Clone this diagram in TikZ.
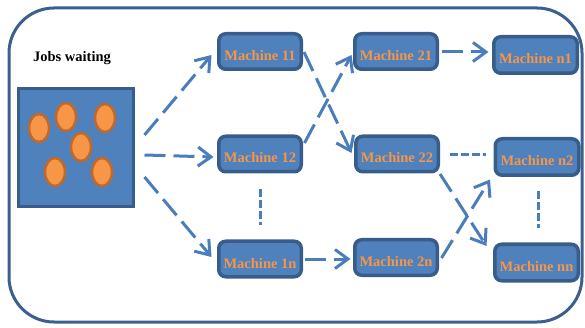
\documentclass[tikz,border=0pt]{standalone}
\usepackage{fontspec}
\setmainfont{Liberation Serif}
\usetikzlibrary{arrows.meta,calc}
\definecolor{boxfill}{HTML}{4F81BD}
\definecolor{boxline}{HTML}{385D8A}
\definecolor{orangetxt}{HTML}{F79646}
\definecolor{orangeline}{HTML}{C0692A}
\definecolor{arrowcol}{HTML}{4A7EBB}
\definecolor{outerline}{HTML}{3B5F8E}
\begin{document}
\begin{tikzpicture}[x=1pt,y=-1pt,
 machine/.style={draw=boxline, fill=boxfill, line width=3.5pt, rounded corners=7pt,
   minimum width=82.5pt, minimum height=35.5pt, inner sep=0pt, text height=18pt, text depth=0pt,
   font=\fontsize{14.5}{16}\selectfont\bfseries, text=orangetxt},
 flow/.style={draw=arrowcol, line width=3pt, dash pattern=on 21pt off 8pt,
   -{Straight Barb[length=13pt,width=19pt,line width=3pt]}},
 dotsline/.style={draw=arrowcol, line width=3pt, dash pattern=on 8pt off 3pt},
 job/.style={fill=orangetxt, draw=orangeline, line width=2.5pt}]
\useasboundingbox (0,0) rectangle (585,328);
\draw[outerline, line width=3pt, rounded corners=45pt] (9,8) rectangle (582,322);
\node[font=\fontsize{14.5}{16}\selectfont\bfseries] (title) at (72,58) {Jobs waiting};
\node[draw=boxline, fill=boxfill, line width=3pt, minimum width=115pt, minimum height=118pt] (jobs) at (76,147.5) {};
\foreach \p in {(39,128),(66,117),(105,118),(81,147),(55,172),(102,172)}
  \draw[job] \p ellipse [x radius=10pt, y radius=14pt];
\node[machine] (m11) at (260,51.5) {Machine 11};
\node[machine] (m12) at (260,154) {Machine 12};
\node[machine] (m1n) at (260,259) {Machine 1n};
\node[machine] (m21) at (396,51.5) {Machine 21};
\node[machine] (m22) at (397,154) {Machine 22};
\node[machine] (m2n) at (396,257.5) {Machine 2n};
\node[machine, minimum width=83.5pt, minimum height=36.5pt] (mn1) at (535.5,55) {Machine n1};
\node[machine, minimum width=83.5pt, minimum height=36.5pt] (mn2) at (537,157) {Machine n2};
\node[machine, minimum width=83.5pt, minimum height=36.5pt] (mnn) at (536.5,262.5) {Machine nn};
% connectors
\draw[flow] ($(jobs.east)+(9.5,-12.5)$) -- ($(m11.west)+(-5.5,3.5)$);
\draw[flow] ($(jobs.east)+(9.5,7.5)$) -- ($(m12.west)+(-3.5,3)$);
\draw[flow] ($(jobs.east)+(9.5,29.5)$) -- ($(m1n.west)+(-5.5,-2)$);
\draw[flow] ($(m11.east)+(1,0.5)$) -- ($(m22.west)+(-2.5,-1)$);
\draw[flow] ($(m12.east)+(1.5,-11)$) -- ($(m21.west)+(-1.5,3.5)$);
\draw[flow] ($(m21.east)+(2.5,0.5)$) -- ($(mn1.west)+(-3.5,-3)$);
\draw[dotsline] ($(m22.east)+(9.5,1)$) -- ($(mn2.west)+(-7.5,-2)$);
\draw[dotsline] ($(m12.south)+(0,15.5)$) -- ($(m1n.north)+(0,-14.5)$);
\draw[dotsline] ($(mn2.south)+(1,14.5)$) -- ($(mnn.north)+(1.5,-14.5)$);
\draw[flow] ($(m1n.east)+(1.5,0)$) -- ($(m2n.west)+(-2.5,1.5)$);
\draw[flow] ($(m22.south east)+(0,0.5)$) -- ($(mnn.north west)+(-6.5,3.5)$);
\draw[flow] ($(m2n.east)+(2.5,0.5)$) -- ($(mn2.south west)+(-3.5,2.5)$);
\end{tikzpicture}
\end{document}
